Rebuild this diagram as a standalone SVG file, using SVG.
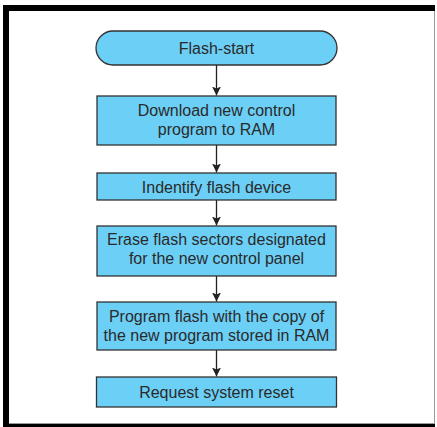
<svg xmlns="http://www.w3.org/2000/svg" width="437" height="427" viewBox="0 0 437 427">
  <style>
    .node { fill: #6ccff6; stroke: #333333; stroke-width: 1.3; }
    .label { font-family: "Liberation Sans", Arial, sans-serif; font-size: 16px; fill: #2a2a2a; text-anchor: middle; }
    .edge { stroke: #222222; stroke-width: 1.3; fill: none; }
  </style>
  <defs>
    <marker id="arrow" markerWidth="10" markerHeight="10" refX="9" refY="4.5" orient="auto" markerUnits="userSpaceOnUse">
      <path d="M0,0 L9,4.5 L0,9 L2,4.5 Z" fill="#222222"/>
    </marker>
  </defs>

  <!-- frame -->
  <rect x="0" y="0" width="437" height="427" fill="#ffffff"/>
  <rect x="3.5" y="5.5" width="431" height="418" fill="#ffffff" stroke="#9a9a9a" stroke-width="1"/>
  <rect x="3" y="5" width="432" height="6" fill="#000000"/>
  <rect x="3" y="5" width="6" height="419" fill="#000000"/>
  <rect x="3" y="424" width="432" height="3" fill="#000000"/>

  <!-- connectors -->
  <g id="connectors">
    <line class="edge" x1="216.5" y1="65" x2="216.5" y2="95.5" marker-end="url(#arrow)"/>
    <line class="edge" x1="216.5" y1="145" x2="216.5" y2="172.5" marker-end="url(#arrow)"/>
    <line class="edge" x1="216.5" y1="200" x2="216.5" y2="225.5" marker-end="url(#arrow)"/>
    <line class="edge" x1="216.5" y1="276" x2="216.5" y2="301.5" marker-end="url(#arrow)"/>
    <line class="edge" x1="216.5" y1="350" x2="216.5" y2="376.5" marker-end="url(#arrow)"/>
  </g>

  <g id="flash-start">
    <rect class="node" x="96" y="31" width="241" height="34" rx="17" ry="17"/>
    <text class="label" x="216.5" y="53.5">Flash-start</text>
  </g>

  <g id="download">
    <rect class="node" x="97" y="96" width="239" height="49"/>
    <text class="label" x="216.5" y="116">Download new control</text>
    <text class="label" x="216.5" y="135">program to RAM</text>
  </g>

  <g id="identify">
    <rect class="node" x="97" y="173" width="239" height="27"/>
    <text class="label" x="216.5" y="193">Indentify flash device</text>
  </g>

  <g id="erase">
    <rect class="node" x="97" y="226" width="239" height="50"/>
    <text class="label" x="216.5" y="244.5">Erase flash sectors designated</text>
    <text class="label" x="216.5" y="264">for the new control panel</text>
  </g>

  <g id="program">
    <rect class="node" x="97" y="302" width="239" height="48"/>
    <text class="label" x="216.5" y="321.5">Program flash with the copy of</text>
    <text class="label" x="216.5" y="341">the new program stored in RAM</text>
  </g>

  <g id="reset">
    <rect class="node" x="96.5" y="377" width="240" height="30"/>
    <text class="label" x="216.5" y="398">Request system reset</text>
  </g>
</svg>
